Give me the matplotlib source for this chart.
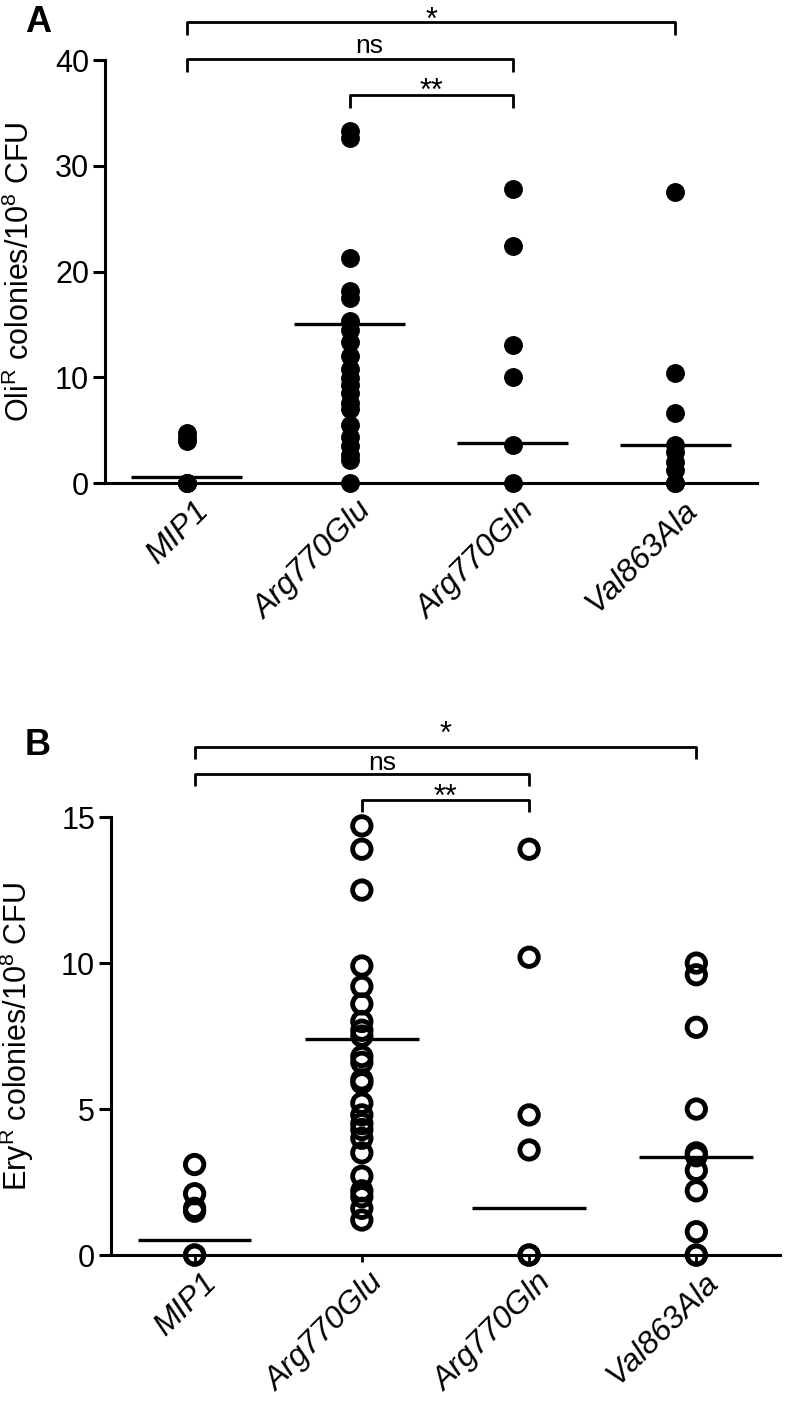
import matplotlib.pyplot as plt
import matplotlib.transforms as mtransforms
import numpy as np

plt.rcParams["font.family"] = ["Liberation Sans", "DejaVu Sans"]

categories = ["MIP1", "Arg770Glu", "Arg770Gln", "Val863Ala"]

# Panel A: OliR colonies / 10^8 CFU
oli_mip1 = [0, 0, 0, 4.0, 4.3, 4.7]
oli_glu = [33.3, 32.6, 21.3, 18.2, 17.5, 15.3, 14.5, 13.3, 12.0, 10.8, 9.9,
           9.3, 8.5, 7.6, 7.0, 5.5, 4.4, 3.5, 2.7, 2.2, 0]
oli_gln = [27.8, 22.4, 13.1, 10.0, 3.6, 0]
oli_ala = [27.5, 10.4, 6.6, 3.6, 2.9, 2.0, 1.2, 0, 0]
oli_medians = [0.6, 15.0, 3.8, 3.6]

# Panel B: EryR colonies / 10^8 CFU
ery_mip1 = [3.1, 2.1, 1.6, 1.5, 0, 0]
ery_glu = [14.7, 13.9, 12.5, 9.9, 9.2, 8.6, 8.0, 7.7, 7.5, 6.8, 6.6, 6.0, 5.9,
           5.2, 4.8, 4.5, 4.3, 4.0, 3.5, 2.7, 2.2, 2.0, 1.6, 1.2]
ery_gln = [13.9, 10.2, 4.8, 3.6, 0, 0]
ery_ala = [10.0, 9.6, 7.8, 5.0, 3.5, 3.4, 2.9, 2.2, 0.8, 0, 0]
ery_medians = [0.5, 7.4, 1.6, 3.35]

# comparisons: (group 1, group 2, label)
comparisons = [(0, 3, "*"), (0, 2, "ns"), (1, 2, "**")]

fig = plt.figure(figsize=(7.86, 14.10), dpi=100)


def draw_panel(ax, groups, medians, ymax, yticks, ylabel, filled,
               bracket_y, text_y, drop):
    for i, vals in enumerate(groups):
        x = np.full(len(vals), i)
        if filled:
            ax.scatter(x, vals, s=185, color="black", linewidths=0,
                       clip_on=False, zorder=3)
        else:
            ax.scatter(x, vals, s=175, facecolors="none", edgecolors="black",
                       linewidths=3.5, clip_on=False, zorder=3)
        ax.hlines(medians[i], i - 0.34, i + 0.34, color="black", lw=2.4,
                  zorder=4)

    ax.set_xlim(-0.5, 3.5)
    ax.set_ylim(0, ymax)
    ax.set_yticks(yticks)
    ax.tick_params(axis="y", labelsize=22, length=8.5, width=2.2, pad=3)
    ax.tick_params(axis="x", length=5, width=2.0, pad=2)
    ax.set_xticks(range(len(categories)))
    labels = ax.set_xticklabels(categories, rotation=45, ha="right",
                                rotation_mode="anchor", fontsize=23,
                                fontstyle="italic")
    shift = mtransforms.ScaledTranslation(0.07, -0.03, fig.dpi_scale_trans)
    for lab in labels:
        lab.set_transform(lab.get_transform() + shift)
    for side in ["top", "right"]:
        ax.spines[side].set_visible(False)
    for side in ["left", "bottom"]:
        ax.spines[side].set_linewidth(2.2)
    ax.set_ylabel(ylabel, fontsize=22)

    for (g1, g2, label), by, ty in zip(comparisons, bracket_y, text_y):
        ax.plot([g1, g1, g2, g2], [by - drop, by, by, by - drop],
                color="black", lw=2.0, clip_on=False, solid_capstyle="butt")
        tx = (g1 + g2) / 2 if label != "ns" else 1.12
        ax.text(tx, ty, label, ha="center", va="center",
                fontsize=19 if label == "ns" else 22)


ax_a = fig.add_axes([0.1336, 0.6574, 0.8295, 0.300])
draw_panel(ax_a, [oli_mip1, oli_glu, oli_gln, oli_ala], oli_medians, 40,
           [0, 10, 20, 30, 40],
           r"Oli$^{\mathregular{R}}$ colonies/10$^{\mathregular{8}}$ CFU",
           True, [43.6, 40.1, 36.7], [43.7, 41.3, 37.0], 1.2)

ax_b = fig.add_axes([0.1412, 0.1099, 0.8511, 0.3106])
draw_panel(ax_b, [ery_mip1, ery_glu, ery_gln, ery_ala], ery_medians, 15,
           [0, 5, 10, 15],
           r"Ery$^{\mathregular{R}}$ colonies/10$^{\mathregular{8}}$ CFU",
           False, [17.41, 16.49, 15.59], [17.8, 16.85, 15.65], 0.42)

# put both y labels at the same figure x position
for ax in (ax_a, ax_b):
    ax.yaxis.set_label_coords(36 / 786, 0.5,
                              transform=mtransforms.blended_transform_factory(
                                  fig.transFigure, ax.transAxes))

fig.text(25 / 786, 1 - 22 / 1410, "A", fontsize=26, fontweight="bold",
         ha="left", va="center")
fig.text(25 / 786, 1 - 745 / 1410, "B", fontsize=26, fontweight="bold",
         ha="left", va="center")

fig.savefig("out.png", dpi=100)
